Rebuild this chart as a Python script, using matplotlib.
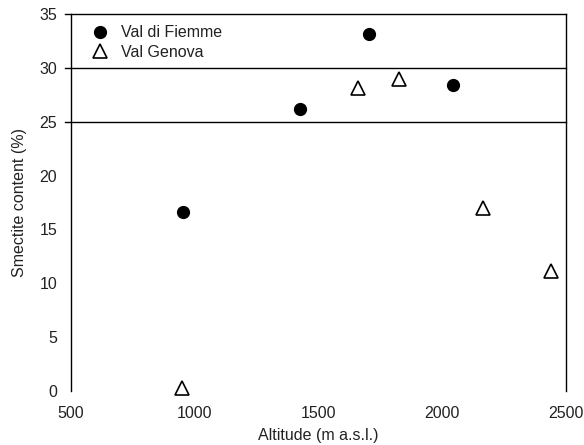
import numpy as np
import matplotlib.pyplot as plt

plt.rcParams['font.family'] = ['Liberation Sans', 'DejaVu Sans']

# data
fiemme_alt = [952, 1425, 1703, 2045]
fiemme_smectite = [16.6, 26.2, 33.1, 28.4]
genova_alt = [948, 1660, 1825, 2165, 2439]
genova_smectite = [0.3, 28.1, 29.0, 17.0, 11.1]
band_lines = [25, 30, 35]

fig = plt.figure(figsize=(5.84, 4.45), dpi=100)
ax = fig.add_axes([0.1216, 0.1213, 0.8474, 0.8472])

ax.plot(fiemme_alt, fiemme_smectite, 'o', color='black', markersize=8.5,
        label='Val di Fiemme', clip_on=False)
ax.plot(genova_alt, genova_smectite, '^', markerfacecolor='white',
        markeredgecolor='black', markeredgewidth=1.2, markersize=9.5,
        label='Val Genova', clip_on=False)

for yv in band_lines:
    ax.plot([-0.012, 1], [yv, yv], color='black', linewidth=1.0,
            transform=ax.get_yaxis_transform(), clip_on=False)

ax.set_xlim(500, 2500)
ax.set_ylim(0, 35)
ax.set_xticks([500, 1000, 1500, 2000, 2500])
ax.set_yticks(np.arange(0, 36, 5))
ax.tick_params(length=0, labelsize=11.5, labelcolor='#222222')
ax.tick_params(axis='x', pad=11)
ax.tick_params(axis='y', pad=10)

ax.spines['bottom'].set_visible(False)
ax.spines['top'].set_visible(False)
for side in ['left', 'right']:
    ax.spines[side].set_linewidth(1.0)

ax.set_xlabel('Altitude (m a.s.l.)', fontsize=11.5, labelpad=5, color='#222222')
ax.set_ylabel('Smectite content (%)', fontsize=11.5, labelpad=9, color='#222222')

leg = ax.legend(loc='upper left', bbox_to_anchor=(0.012, 1.0), frameon=False,
                fontsize=11.5, handletextpad=0.55, borderaxespad=0.5,
                borderpad=0.2, labelspacing=0.3, handlelength=1.5)
for t in leg.get_texts():
    t.set_color('#222222')

fig.savefig('out.png', dpi=100)
